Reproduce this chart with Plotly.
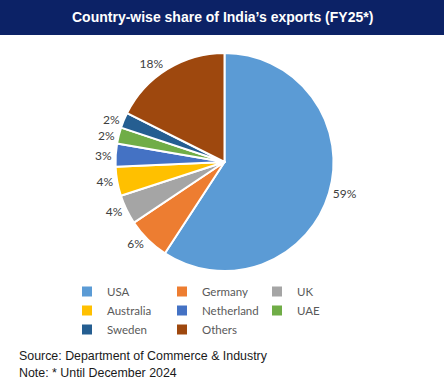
import plotly.graph_objects as go

# ---- data ----
countries = ["USA", "Germany", "UK", "Australia", "Netherland", "UAE", "Sweden", "Others"]
shares = [59.2, 6.4, 4.4, 4.3, 3.4, 2.4, 2.3, 17.6]
colors = ["#5B9BD5", "#ED7D31", "#A5A5A5", "#FFC000", "#4472C4", "#70AD47", "#255E91", "#9E480E"]
title_text = "Country-wise share of India\u2019s exports (FY25*)"
source_lines = ["Source: Department of Commerce &amp; Industry", "Note: * Until December 2024"]

# ---- layout geometry (pixels) ----
W, H = 444, 388
ML, MR = 55, 59
PW = W - ML - MR
PH = H

def px_x(x):
    return (x - ML) / PW

def px_y(y):
    return 1 - y / PH

cx, cy, r = 224.5, 162, 109

fig = go.Figure(go.Pie(
    labels=countries,
    values=shares,
    marker=dict(colors=colors, line=dict(color="white", width=2)),
    sort=False,
    direction="clockwise",
    rotation=0,
    textposition="outside",
    texttemplate="%{percent:.0%}",
    textfont=dict(family="Lato", size=12, color="#404040"),
    domain=dict(x=[px_x(cx - r), px_x(cx + r)], y=[px_y(cy + r), px_y(cy - r)]),
    hoverinfo="label+percent",
))

fig.update_layout(
    width=W, height=H,
    margin=dict(l=ML, r=MR, t=0, b=0),
    paper_bgcolor="white",
    plot_bgcolor="white",
    showlegend=True,
    legend=dict(
        orientation="h",
        x=px_x(67), xanchor="left",
        y=px_y(277), yanchor="top",
        entrywidth=50,
        font=dict(family="Lato", size=11.5, color="#595959"),
        bgcolor="rgba(0,0,0,0)",
    ),
    shapes=[dict(
        type="rect", xref="paper", yref="paper",
        x0=px_x(0), x1=px_x(W), y0=px_y(35), y1=1,
        fillcolor="#0C2266", line=dict(width=0), layer="below",
    )],
    annotations=[
        dict(text="<b>" + title_text + "</b>", xref="paper", yref="paper",
             x=px_x(222.5), y=px_y(17), xanchor="center", yanchor="middle",
             showarrow=False, font=dict(family="Liberation Sans", size=14, color="white")),
        dict(text=source_lines[0], xref="paper", yref="paper",
             x=px_x(17), y=px_y(356), xanchor="left", yanchor="middle",
             showarrow=False, font=dict(family="Liberation Sans", size=12.4, color="#1a1a1a")),
        dict(text=source_lines[1], xref="paper", yref="paper",
             x=px_x(17), y=px_y(373), xanchor="left", yanchor="middle",
             showarrow=False, font=dict(family="Liberation Sans", size=12.4, color="#1a1a1a")),
    ],
)

fig.write_html(
    "out.html",
    config={"displayModeBar": False},
    post_script="document.body.style.margin='0';document.body.style.overflow='hidden';",
)
